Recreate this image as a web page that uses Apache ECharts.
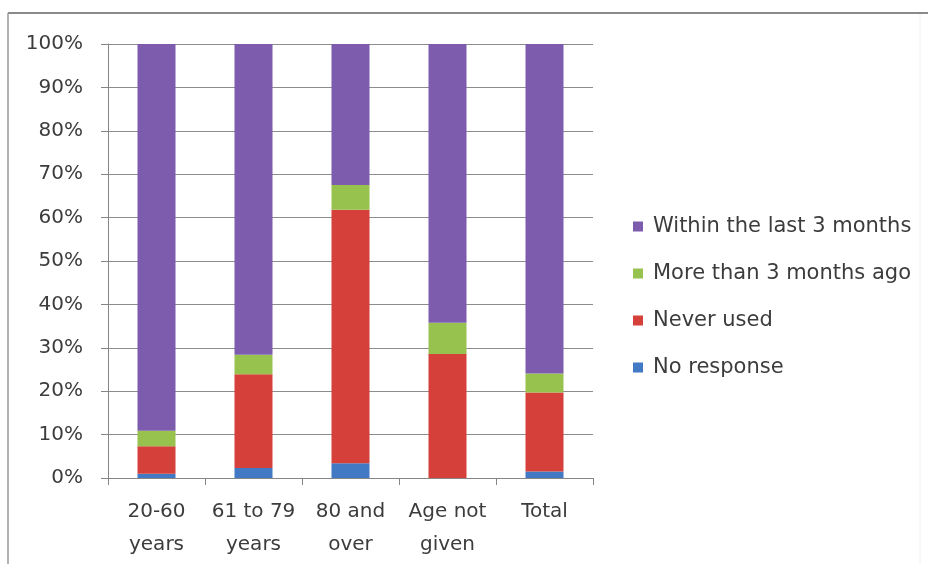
<!DOCTYPE html>
<html>
<head>
<meta charset="utf-8">
<script src="https://cdn.jsdelivr.net/npm/echarts@6/dist/echarts.min.js"></script>
<style>
  html, body { margin: 0; padding: 0; background: #ffffff; }
  #chart { width: 928px; height: 564px; }
</style>
</head>
<body>
<div id="chart"></div>
<script>
// Age groups along the x axis
var categories = ['20-60\nyears', '61 to 79\nyears', '80 and\nover', 'Age not\ngiven', 'Total'];

// Share of respondents (%) in each answer group, bottom to top of the stack
var noResponse = [1.0, 2.3, 3.4, 0.0, 1.5];
var neverUsed = [6.3, 21.6, 58.4, 28.6, 18.2];
var moreThan3Months = [3.6, 4.5, 5.7, 7.2, 4.4];
var within3Months = [89.1, 71.6, 32.5, 64.2, 75.9];

var seriesNames = ['No response', 'Never used', 'More than 3 months ago', 'Within the last 3 months'];
var legendOrder = ['Within the last 3 months', 'More than 3 months ago', 'Never used', 'No response'];

var colors = {
  'No response': '#4279c4',
  'Never used': '#d5403b',
  'More than 3 months ago': '#98c24e',
  'Within the last 3 months': '#7d5cae'
};

var textColor = '#3c3c3c';
var fontFamily = '"DejaVu Sans", "Open Sans", sans-serif';

var chart = echarts.init(document.getElementById('chart'), null, { renderer: 'canvas' });

function stackSeries(name, values) {
  return {
    name: name,
    type: 'bar',
    stack: 'total',
    barWidth: 38,
    itemStyle: { color: colors[name] },
    data: values
  };
}

chart.setOption({
  animation: false,
  backgroundColor: '#ffffff',
  textStyle: { fontFamily: fontFamily, color: textColor },
  graphic: [
    { type: 'line', shape: { x1: 8, y1: 13, x2: 928, y2: 13 }, style: { stroke: '#8a8a8a', lineWidth: 2 } },
    { type: 'line', shape: { x1: 8, y1: 13, x2: 8, y2: 564 }, style: { stroke: '#9a9a9a', lineWidth: 1.5 } },
    { type: 'line', shape: { x1: 920, y1: 14, x2: 920, y2: 564 }, style: { stroke: '#f0f0f0', lineWidth: 1 } }
  ],
  grid: { left: 108, right: 335, top: 44, bottom: 86, containLabel: false },
  legend: {
    orient: 'vertical',
    left: 628,
    top: 208,
    itemGap: 20,
    itemWidth: 10,
    itemHeight: 10,
    icon: 'rect',
    data: legendOrder,
    textStyle: { fontFamily: fontFamily, fontSize: 21, lineHeight: 27, color: textColor, padding: [0, 0, 0, 5] }
  },
  xAxis: {
    type: 'category',
    data: categories,
    axisLine: { lineStyle: { color: '#868686', width: 1 } },
    axisTick: { show: true, length: 7, lineStyle: { color: '#868686' } },
    axisLabel: {
      interval: 0,
      margin: 17,
      fontSize: 20,
      lineHeight: 33,
      color: textColor,
      fontFamily: fontFamily
    }
  },
  yAxis: {
    type: 'value',
    min: 0,
    max: 100,
    interval: 10,
    axisLine: { show: true, lineStyle: { color: '#868686', width: 1 } },
    axisTick: { show: true, length: 7, lineStyle: { color: '#868686' } },
    splitLine: { lineStyle: { color: '#8c8c8c', width: 1 } },
    axisLabel: {
      formatter: '{value}%',
      margin: 25,
      fontSize: 20,
      color: textColor,
      fontFamily: fontFamily
    }
  },
  series: [
    stackSeries(seriesNames[0], noResponse),
    stackSeries(seriesNames[1], neverUsed),
    stackSeries(seriesNames[2], moreThan3Months),
    stackSeries(seriesNames[3], within3Months)
  ]
});
</script>
</body>
</html>
